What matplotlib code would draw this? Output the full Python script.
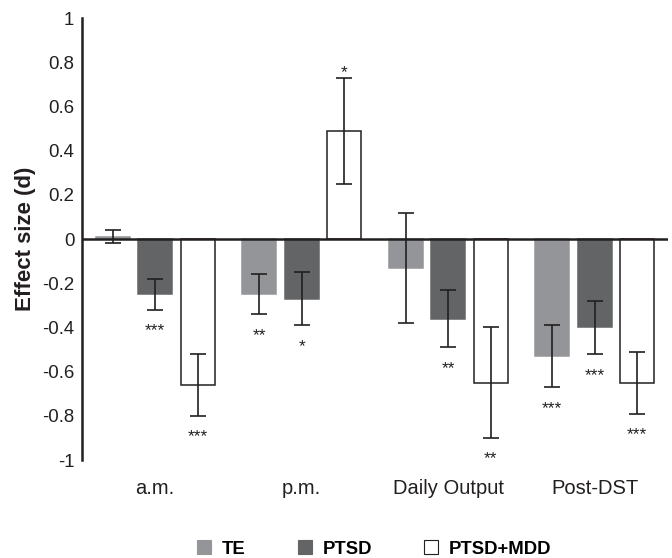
import numpy as np
from matplotlib import pyplot as plt
from matplotlib.patches import Patch

plt.rcParams['font.family'] = ['Liberation Sans', 'DejaVu Sans']

categories = ["a.m.", "p.m.", "Daily Output", "Post-DST"]
groups = ["TE", "PTSD", "PTSD+MDD"]

te = [0.01, -0.25, -0.13, -0.53]
ptsd = [-0.25, -0.27, -0.36, -0.40]
ptsd_mdd = [-0.66, 0.49, -0.65, -0.65]

te_err = [0.03, 0.09, 0.25, 0.14]
ptsd_err = [0.07, 0.12, 0.13, 0.12]
ptsd_mdd_err = [0.14, 0.24, 0.25, 0.14]

te_sig = ["", "**", "", "***"]
ptsd_sig = ["***", "*", "**", "***"]
ptsd_mdd_sig = ["***", "*", "**", "***"]

fill = ["#939598", "#636466", "white"]
edge = ["#939598", "#636466", "#231f20"]
dark = "#231f20"

fig = plt.figure(figsize=(6.72, 5.58), dpi=100)
ax = fig.add_axes([0.122, 0.1756, 0.872, 0.792])

x = np.arange(len(categories))
w = 0.233
step = 0.29
series = [(te, te_err, te_sig), (ptsd, ptsd_err, ptsd_sig), (ptsd_mdd, ptsd_mdd_err, ptsd_mdd_sig)]

for i, (vals, errs, sigs) in enumerate(series):
    pos = x + (i - 1) * step
    ax.bar(pos, vals, w, color=fill[i], edgecolor=edge[i], linewidth=1.1, zorder=2)
    ax.errorbar(pos, vals, yerr=errs, fmt="none", ecolor=dark, elinewidth=1.2,
                capsize=6, capthick=1.2, zorder=3)
    for p, v, e, s in zip(pos, vals, errs, sigs):
        if not s:
            continue
        if v >= 0:
            ax.annotate(s, (p, v + e), xytext=(0, 0.5), textcoords="offset points",
                        ha="center", va="baseline", fontsize=12.5, color=dark)
        else:
            ax.annotate(s, (p, v - e), xytext=(0, -18.5), textcoords="offset points",
                        ha="center", va="baseline", fontsize=12.5, color=dark)

ax.axhline(0, color=dark, linewidth=1.8, zorder=4)
ax.set_xlim(-0.5, 3.5)
ax.set_ylim(-1, 1)
ax.set_yticks(np.arange(-1, 1.01, 0.2))
ax.set_yticklabels(["-1", "-0.8", "-0.6", "-0.4", "-0.2", "0", "0.2", "0.4", "0.6", "0.8", "1"])
ax.set_xticks(x)
ax.set_xticklabels(categories)
ax.tick_params(axis="both", length=0, colors=dark)
ax.tick_params(axis="x", pad=14, labelsize=14.5)
ax.tick_params(axis="y", pad=5.5, labelsize=13.4)

for s in ["top", "right", "bottom"]:
    ax.spines[s].set_visible(False)
ax.spines["left"].set_linewidth(1.8)
ax.spines["left"].set_color(dark)

ax.set_ylabel("Effect size (d)", fontsize=16, fontweight="bold", color=dark)
ax.yaxis.set_label_coords(-0.078, 0.5)

handles = [Patch(facecolor=fill[i], edgecolor=edge[i], linewidth=0.8) for i in range(3)]
fig.legend(handles, groups, loc="center", bbox_to_anchor=(0.557, 0.016), ncol=3,
           frameon=False, handlelength=0.75, handleheight=0.75, handletextpad=0.6,
           columnspacing=2.8, borderpad=0, prop={"weight": "bold", "size": 13.3})

fig.savefig("out.png", dpi=100)
